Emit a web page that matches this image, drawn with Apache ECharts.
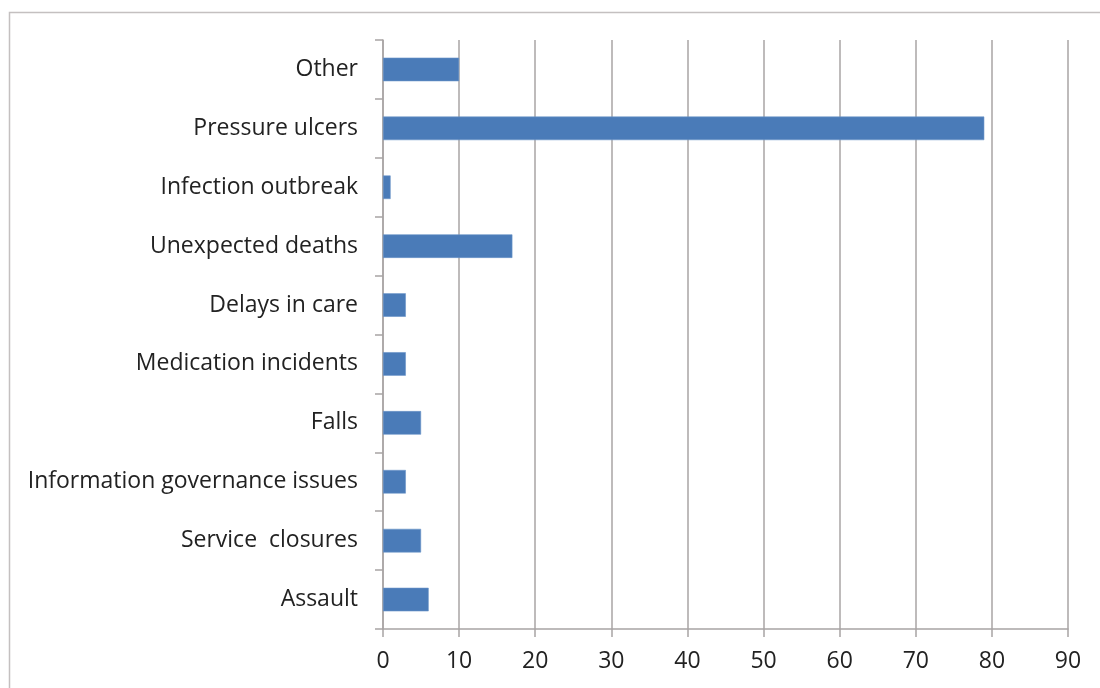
<!DOCTYPE html>
<html>
<head>
<meta charset="utf-8">
<script src="https://cdn.jsdelivr.net/npm/echarts@6/dist/echarts.min.js"></script>
<style>
  html, body { margin: 0; padding: 0; background: #ffffff; }
  #chart { width: 1100px; height: 688px; }
</style>
</head>
<body>
<div id="chart"></div>
<script>
// Incident categories, listed bottom to top as drawn on the axis
const categories = [
  'Assault',
  'Service  closures',
  'Information governance issues',
  'Falls',
  'Medication incidents',
  'Delays in care',
  'Unexpected deaths',
  'Infection outbreak',
  'Pressure ulcers',
  'Other'
];
// Number of incidents per category
const counts = [6, 5, 3, 5, 3, 3, 17, 1, 79, 10];
// Value axis range
const axisMin = 0;
const axisMax = 90;
const axisStep = 10;

const gridColor = '#a8a4a4';
const textColor = '#222222';
const fontFamily = '"Open Sans", sans-serif';

const chart = echarts.init(document.getElementById('chart'), null, { renderer: 'canvas' });
chart.setOption({
  backgroundColor: '#ffffff',
  animation: false,
  graphic: [{
    type: 'rect',
    shape: { x: 9.5, y: 12.5, width: 1200, height: 800 },
    style: { fill: 'none', stroke: '#c4c0c0', lineWidth: 1.5 },
    silent: true
  }],
  grid: { left: 383, right: 32, top: 40, bottom: 59, containLabel: false },
  xAxis: {
    type: 'value',
    min: axisMin,
    max: axisMax,
    interval: axisStep,
    axisLine: { show: true, lineStyle: { color: gridColor, width: 1.5 } },
    axisTick: { show: true, length: 8, inside: false, lineStyle: { color: gridColor, width: 1.5 } },
    splitLine: { show: true, lineStyle: { color: gridColor, width: 1.5 } },
    axisLabel: { color: textColor, fontSize: 23, fontFamily: fontFamily, margin: 21 }
  },
  yAxis: {
    type: 'category',
    data: categories,
    boundaryGap: true,
    axisLine: { show: true, lineStyle: { color: gridColor, width: 1.5 } },
    axisTick: { show: true, length: 8, inside: false, alignWithLabel: false, lineStyle: { color: gridColor, width: 1.5 } },
    splitLine: { show: false },
    axisLabel: { color: textColor, fontSize: 23, fontFamily: fontFamily, margin: 25 }
  },
  series: [{
    type: 'bar',
    data: counts,
    barWidth: '40%',
    itemStyle: { color: '#4a7bb8', borderColor: '#6a93c8', borderWidth: 0.6 }
  }]
});
</script>
</body>
</html>
